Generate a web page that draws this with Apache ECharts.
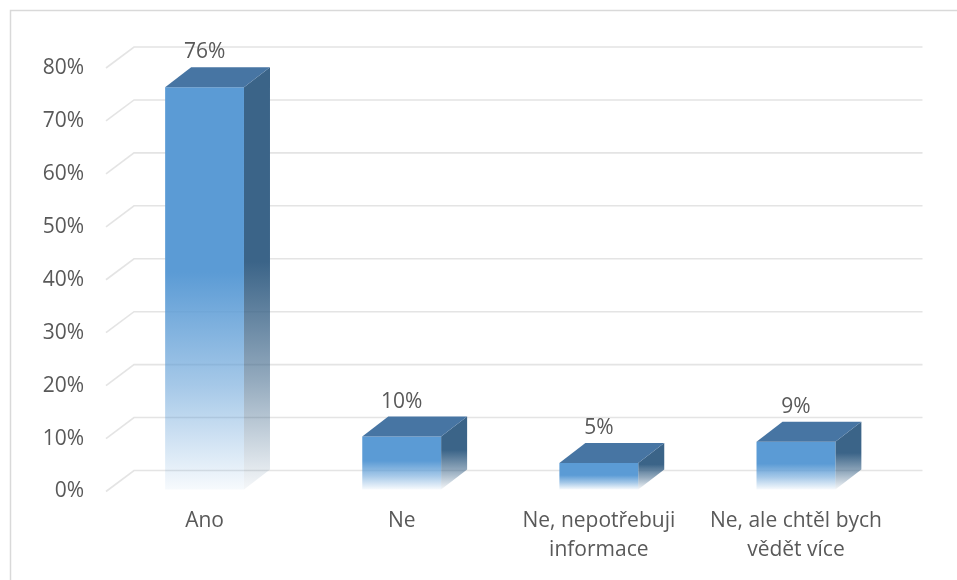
<!DOCTYPE html>
<html>
<head>
<meta charset="utf-8">
<script src="https://cdn.jsdelivr.net/npm/echarts@6/dist/echarts.min.js"></script>
<style>
  html, body { margin: 0; padding: 0; background: #ffffff; }
  #chart { width: 957px; height: 580px; }
</style>
</head>
<body>
<div id="chart"></div>
<script>
// Survey answers and their shares (percent)
const categories = ['Ano', 'Ne', 'Ne, nepotřebuji\ninformace', 'Ne, ale chtěl bych\nvědět více'];
const shares = [76, 10, 5, 9];
const yTicks = [0, 10, 20, 30, 40, 50, 60, 70, 80];

const FONT = '"Open Sans"';
const FONT_SIZE = 21;
const TEXT_COLOR = '#595959';
const FRONT_COLOR = [91, 155, 213];
const TOP_COLOR = '#4775A3';
const SIDE_COLOR = [59, 100, 136];
const GRID_DEPTH = [28, -21];   // offset from front plane to back wall
const BAR_DEPTH = [26, -20];    // depth of each box
const BAR_SHIFT = -2;           // boxes stand slightly behind the front plane

// vertical fade: solid in the upper half, dissolving towards the floor
function fade(rgb) {
  const c = (a) => 'rgba(' + rgb.join(',') + ',' + a + ')';
  return {
    type: 'linear', x: 0, y: 0, x2: 0, y2: 1,
    colorStops: [
      { offset: 0, color: c(1) },
      { offset: 0.46, color: c(1) },
      { offset: 0.74, color: c(0.55) },
      { offset: 1, color: c(0.05) }
    ]
  };
}

const chart = echarts.init(document.getElementById('chart'), null, { renderer: 'canvas' });

const option = {
  backgroundColor: '#ffffff',
  animation: false,
  graphic: [{
    type: 'rect',
    silent: true,
    shape: { x: 10.5, y: 10.5, width: 1000, height: 1000 },
    style: { fill: 'none', stroke: '#D9D9D9', lineWidth: 1.5 }
  }],
  grid: { left: 106, right: 62.5, top: 68, bottom: 88.5 },
  xAxis: {
    type: 'category',
    data: categories,
    axisLine: { show: false },
    axisTick: { show: false },
    splitLine: { show: false },
    axisLabel: {
      interval: 0,
      margin: 15,
      color: TEXT_COLOR,
      fontFamily: FONT,
      fontSize: FONT_SIZE,
      lineHeight: 29
    }
  },
  yAxis: {
    type: 'value',
    min: 0,
    max: 80,
    interval: 10,
    axisLine: { show: false },
    axisTick: { show: false },
    splitLine: { show: false },
    axisLabel: {
      margin: 22,
      formatter: '{value}%',
      color: TEXT_COLOR,
      fontFamily: FONT,
      fontSize: FONT_SIZE
    }
  },
  series: [
    {
      // floor-to-wall gridlines
      type: 'custom',
      silent: true,
      z: 1,
      data: yTicks.map((v) => [0, v]),
      renderItem: function (params, api) {
        const cs = params.coordSys;
        const y = api.coord([0, api.value(1)])[1];
        return {
          type: 'polyline',
          shape: {
            points: [
              [cs.x, y],
              [cs.x + GRID_DEPTH[0], y + GRID_DEPTH[1]],
              [cs.x + cs.width + GRID_DEPTH[0], y + GRID_DEPTH[1]]
            ]
          },
          style: { fill: 'none', stroke: '#E4E4E4', lineWidth: 1.6 }
        };
      }
    },
    {
      // 3-D boxes with value labels
      type: 'custom',
      z: 2,
      data: shares.map((v, i) => [i, v]),
      renderItem: function (params, api) {
        const idx = api.value(0);
        const val = api.value(1);
        const base = api.coord([idx, 0]);
        const top = api.coord([idx, val]);
        const bw = api.size([1, 0])[0] * 0.4;
        const xL = base[0] - bw / 2;
        const xR = base[0] + bw / 2;
        const yb = base[1] + BAR_SHIFT;
        const yt = top[1] + BAR_SHIFT;
        const dx = BAR_DEPTH[0], dy = BAR_DEPTH[1];
        return {
          type: 'group',
          children: [
            {
              type: 'polygon',
              shape: { points: [[xR, yt], [xR + dx, yt + dy], [xR + dx, yb + dy], [xR, yb]] },
              style: { fill: fade(SIDE_COLOR) }
            },
            {
              type: 'rect',
              shape: { x: xL, y: yt, width: bw, height: yb - yt },
              style: { fill: fade(FRONT_COLOR) }
            },
            {
              type: 'polygon',
              shape: { points: [[xL, yt], [xL + dx, yt + dy], [xR + dx, yt + dy], [xR, yt]] },
              style: { fill: TOP_COLOR }
            },
            {
              type: 'text',
              style: {
                text: val + '%',
                x: base[0],
                y: yt + dy - 15,
                align: 'center',
                verticalAlign: 'middle',
                fontFamily: FONT,
                fontSize: FONT_SIZE,
                fill: TEXT_COLOR
              }
            }
          ]
        };
      }
    }
  ]
};

chart.setOption(option);
</script>
</body>
</html>
